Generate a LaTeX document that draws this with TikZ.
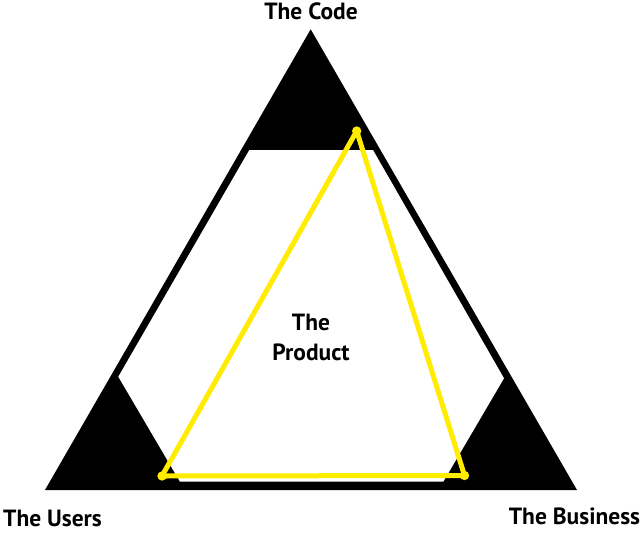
\documentclass[tikz,border=0pt]{standalone}
\usepackage{fontspec}
\setmainfont{PT Sans}
\usepackage{tikz}
\definecolor{prodyellow}{RGB}{255,236,0}

\begin{document}
\begin{tikzpicture}[x=0.75pt,y=0.75pt,yscale=-1,xscale=1,
  corner label/.style={font=\bfseries\fontsize{17.6}{22.5}\selectfont, inner sep=0.75pt},
  yellow dot/.style={circle, fill=prodyellow, inner sep=0pt, minimum size=7pt}]
\useasboundingbox (0,0) rectangle (643,533);
%Shape: Triangle, outer black
\fill (310.7,29.3) -- (577,490) -- (45,490) -- cycle ;
%Shape: white hexagon inside
\fill[white] (249.3,150) -- (373,150) -- (504,378.3) -- (443.3,481.7) -- (180,481.7) -- (118.3,376.7) -- cycle ;
%Yellow corners
\node[yellow dot] (code) at (356.7,131) {};
\node[yellow dot] (users) at (162,476) {};
\node[yellow dot] (business) at (464.5,475.5) {};
%Yellow triangle
\draw[prodyellow, line width=3.75pt, line join=round] (code.center) -- (users.center) -- (business.center) -- cycle ;

% Text Node
\node[corner label] (codelbl) at (311,11) {The Code};
% Text Node
\node[corner label] (userslbl) at (52.5,518) {The Users};
% Text Node
\node[corner label] (businesslbl) at (574.5,516) {The Business};
% Text Node
\node[corner label, align=center] (product) at (311,337) {The\\Product};
\end{tikzpicture}
\end{document}
